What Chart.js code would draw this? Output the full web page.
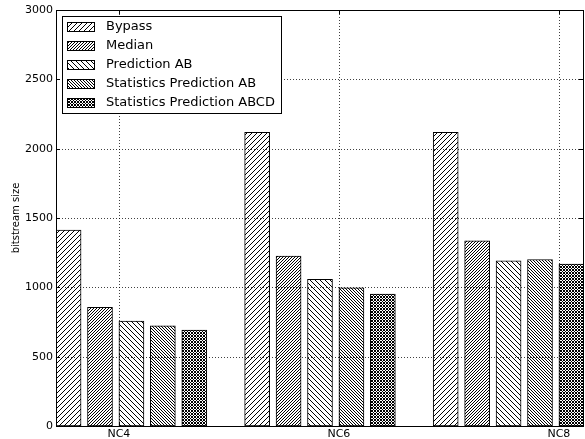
<!DOCTYPE html>
<html>
<head>
<meta charset="utf-8">
<script src="https://cdn.jsdelivr.net/npm/chart.js@4/dist/chart.umd.min.js"></script>
<style>
  html, body { margin: 0; padding: 0; background: #fff; }
  #chart { display: block; }
</style>
</head>
<body>
<canvas id="chart" width="585" height="439"></canvas>
<script>
// data
const categories = ['NC4', 'NC6', 'NC8'];
const seriesNames = ['Bypass', 'Median', 'Prediction AB', 'Statistics Prediction AB', 'Statistics Prediction ABCD'];
const bypass = [1413, 2118, 2118];
const median = [856, 1226, 1336];
const predictionAB = [757, 1058, 1192];
const statsPredictionAB = [722, 996, 1201];
const statsPredictionABCD = [691, 952, 1168];
const yTickLabels = ['0', '500', '1000', '1500', '2000', '2500', '3000'];

const seriesValues = [bypass, median, predictionAB, statsPredictionAB, statsPredictionABCD];

// bar layout in x units: 5 bars per group, one empty slot between groups,
// bar width 0.8. Tick of group g sits at the left edge of bar (g + 2).
const groupStep = seriesNames.length + 1;
const barWidth = 0.8;
const xMax = (categories.length - 1) * groupStep + seriesNames.length - 1 + barWidth;
const tickPositions = categories.map((c, g) => g * groupStep + g + 2);

// hatch patterns drawn pixel by pixel
function hatch(period, fwd, back) {
  const tile = document.createElement('canvas');
  tile.width = period;
  tile.height = period;
  const c = tile.getContext('2d');
  c.fillStyle = '#fff';
  c.fillRect(0, 0, period, period);
  c.fillStyle = '#000';
  for (let x = 0; x < period; x++) {
    for (let y = 0; y < period; y++) {
      const f = fwd && (x + y) % period === period - 1;
      const b = back && ((x - y) % period + period) % period === 0;
      if (f || b) c.fillRect(x, y, 1, 1);
    }
  }
  return c.createPattern(tile, 'repeat');
}

const patterns = [
  hatch(5, true, false),
  hatch(3, true, false),
  hatch(5, false, true),
  hatch(3, false, true),
  hatch(3, true, true)
];

const datasets = seriesNames.map((name, i) => ({
  label: name,
  data: seriesValues[i].map((v, g) => ({ x: g * groupStep + i + barWidth / 2, y: v })),
  backgroundColor: patterns[i],
  borderColor: '#000',
  borderWidth: 1,
  borderSkipped: false,
  grouped: false,
  barThickness: 25
}));

const frameAndLegend = {
  id: 'frameAndLegend',
  afterDatasetsDraw(chart) {
    // dotted grid on top of the bars
    const ctx = chart.ctx;
    const a = chart.chartArea;
    const xs = chart.scales.x;
    const ys = chart.scales.y;
    ctx.save();
    ctx.strokeStyle = 'rgba(0,0,0,0.75)';
    ctx.lineWidth = 1;
    ctx.setLineDash([1, 2]);
    ctx.beginPath();
    yTickLabels.forEach(t => {
      const y = Math.round(ys.getPixelForValue(Number(t))) + 0.5;
      ctx.moveTo(a.left, y); ctx.lineTo(a.right, y);
    });
    tickPositions.forEach(v => {
      const x = Math.round(xs.getPixelForValue(v)) + 0.5;
      ctx.moveTo(x, a.bottom); ctx.lineTo(x, a.top);
    });
    ctx.stroke();
    ctx.restore();
  },
  afterDraw(chart) {
    const ctx = chart.ctx;
    const a = chart.chartArea;
    const xs = chart.scales.x;
    const ys = chart.scales.y;
    ctx.save();
    ctx.strokeStyle = '#000';
    ctx.lineWidth = 1;
    ctx.strokeRect(Math.round(a.left) + 0.5, Math.round(a.top) + 0.5,
      Math.round(a.right - a.left) - 1, Math.round(a.bottom - a.top));

    // inward tick marks on all four sides
    ctx.beginPath();
    yTickLabels.forEach(t => {
      const y = Math.round(ys.getPixelForValue(Number(t))) + 0.5;
      ctx.moveTo(a.left, y); ctx.lineTo(a.left + 4, y);
      ctx.moveTo(a.right - 1, y); ctx.lineTo(a.right - 5, y);
    });
    tickPositions.forEach(v => {
      const x = Math.round(xs.getPixelForValue(v)) + 0.5;
      ctx.moveTo(x, a.bottom); ctx.lineTo(x, a.bottom - 4);
      ctx.moveTo(x, a.top); ctx.lineTo(x, a.top + 4);
    });
    ctx.stroke();

    // legend box in the upper left corner
    const lx = 62, ly = 16, lw = 219, lh = 97;
    ctx.fillStyle = '#fff';
    ctx.fillRect(lx, ly, lw, lh);
    ctx.strokeRect(lx + 0.5, ly + 0.5, lw, lh);
    ctx.font = '13px "DejaVu Sans"';
    ctx.textBaseline = 'middle';
    chart.data.datasets.forEach((ds, i) => {
      const cy = 26.5 + i * 19;
      ctx.fillStyle = ds.backgroundColor;
      ctx.fillRect(67, Math.round(cy - 5), 28, 10);
      ctx.strokeRect(67.5, Math.round(cy - 5) + 0.5, 27, 9);
      ctx.fillStyle = '#000';
      ctx.fillText(ds.label, 106, cy);
    });
    ctx.restore();
  }
};

new Chart(document.getElementById('chart'), {
  type: 'bar',
  data: { datasets },
  options: {
    responsive: false,
    animation: false,
    devicePixelRatio: 1,
    layout: { padding: { top: 10, right: 1, left: 0, bottom: 0 } },
    plugins: {
      legend: { display: false },
      tooltip: { enabled: false }
    },
    scales: {
      x: {
        type: 'linear',
        min: 0,
        max: xMax,
        offset: false,
        afterBuildTicks: s => { s.ticks = tickPositions.map(v => ({ value: v })); },
        afterFit: s => { s.height = 13; },
        grid: { display: false, offset: false, drawTicks: false, tickLength: 0 },
        border: { display: false },
        ticks: {
          autoSkip: false,
          maxRotation: 0,
          padding: 2,
          color: '#000',
          font: { family: 'DejaVu Sans', size: 11 },
          callback: (v) => categories[tickPositions.indexOf(v)]
        }
      },
      y: {
        min: 0,
        max: 3000,
        afterBuildTicks: s => { s.ticks = yTickLabels.map(t => ({ value: Number(t) })); },
        afterFit: s => { s.width = 56; },
        grid: { display: false, drawTicks: false, tickLength: 0 },
        border: { display: false },
        ticks: {
          padding: 3,
          color: '#000',
          font: { family: 'DejaVu Sans', size: 11 },
          callback: (v) => yTickLabels[yTickLabels.indexOf(String(v))]
        },
        title: {
          display: true,
          text: 'bitstream size',
          color: '#000',
          padding: { top: 10, bottom: 0 },
          font: { family: 'DejaVu Sans', size: 10 }
        }
      }
    }
  },
  plugins: [frameAndLegend]
});
</script>
</body>
</html>
